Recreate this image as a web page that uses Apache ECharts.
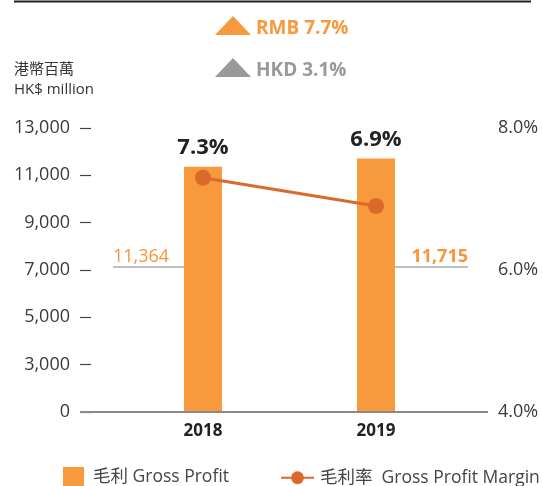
<!DOCTYPE html>
<html>
<head>
<meta charset="utf-8">
<script src="https://cdn.jsdelivr.net/npm/echarts@6/dist/echarts.min.js"></script>
<style>
html,body{margin:0;padding:0;background:#fff;}
#chart{width:542px;height:486px;}
</style>
</head>
<body>
<div id="chart"></div>
<script>
const categories = ['2018', '2019'];
const grossProfit = [11364, 11715];
const grossMargin = [7.3, 6.9];
const profitLabels = ['11,364', '11,715'];
const leftAxisMin = 1000, leftAxisMax = 13000, leftAxisStep = 2000;
const rightAxisMin = 4, rightAxisMax = 8, rightAxisStep = 2;
const changeLabels = ['RMB 7.7%', 'HKD 3.1%'];
const seriesNames = ['毛利 Gross Profit', '毛利率  Gross Profit Margin'];
const unitLabel = '港幣百萬\nHK$ million';

const FONT = "'Open Sans', 'Noto Sans CJK TC', sans-serif";
const ORANGE = '#F7993C';
const LINE = '#DB6A2A';
const GRAY_TRI = '#98999B';

const chart = echarts.init(document.getElementById('chart'));

const option = {
  backgroundColor: '#fff',
  animation: false,
  textStyle: { fontFamily: FONT },
  title: {
    text: unitLabel,
    left: 14, top: 60, padding: 0,
    textStyle: { fontFamily: FONT, fontSize: 15, fontWeight: 'normal', color: '#333', lineHeight: 20 }
  },
  grid: { left: 116.5, right: 79.5, top: 128, bottom: 74 },
  legend: [
    {
      data: [seriesNames[0]], left: 63, top: 467, padding: 0, itemWidth: 21, itemHeight: 20,
      icon: 'rect',
      textStyle: { fontFamily: FONT, fontSize: 17.5, color: '#444', padding: [0, 0, 0, 4] }
    },
    {
      data: [seriesNames[1]], left: 280, top: 469, padding: 0, itemWidth: 33, itemHeight: 16,
      textStyle: { fontFamily: FONT, fontSize: 17.5, color: '#444', padding: [0, 0, 0, 1] }
    }
  ],
  xAxis: {
    type: 'category', data: categories,
    axisLine: { show: false }, axisTick: { show: false },
    axisLabel: { fontFamily: FONT, fontSize: 17, fontWeight: 'bold', color: '#222', margin: 11 }
  },
  yAxis: [
    {
      type: 'value', min: leftAxisMin, max: leftAxisMax, interval: leftAxisStep,
      offset: 36.5, position: 'left',
      axisLine: { show: false },
      axisTick: { show: true, inside: true, length: 11, lineStyle: { color: '#444', width: 1.2 } },
      splitLine: { show: false },
      axisLabel: {
        fontFamily: FONT, fontSize: 18, color: '#3a3a3a', margin: 10,
        formatter: v => v === leftAxisMin ? '0' : v.toLocaleString('en-US')
      }
    },
    {
      type: 'value', min: rightAxisMin, max: rightAxisMax, interval: rightAxisStep,
      offset: 25.5, position: 'right',
      axisLine: { show: false }, axisTick: { show: false }, splitLine: { show: false },
      axisLabel: {
        fontFamily: FONT, fontSize: 18, color: '#3a3a3a', margin: 10,
        formatter: v => v.toFixed(1) + '%'
      }
    }
  ],
  series: [
    {
      name: seriesNames[0], type: 'bar', data: grossProfit, barWidth: 38,
      itemStyle: { color: ORANGE },
      label: {
        show: true, position: 'top', distance: 8,
        fontFamily: FONT, fontSize: 22, fontWeight: 'bold', color: '#222',
        formatter: p => grossMargin[p.dataIndex].toFixed(1) + '%'
      },
      z: 2
    },
    {
      name: seriesNames[1], type: 'line', yAxisIndex: 1, data: grossMargin,
      symbol: 'circle', symbolSize: 16,
      lineStyle: { color: LINE, width: 3 },
      itemStyle: { color: LINE },
      z: 3
    }
  ]
};
chart.setOption(option);

const graphics = [];
graphics.push({ type: 'line', shape: { x1: 14, y1: 1.5, x2: 531, y2: 1.5 }, style: { stroke: '#222', lineWidth: 2 } });
const triColors = [ORANGE, GRAY_TRI];
const triTops = [16, 58];
changeLabels.forEach((t, i) => {
  const top = triTops[i];
  graphics.push({ type: 'polygon', shape: { points: [[215, top + 19], [233, top], [251, top + 19]] }, style: { fill: triColors[i] } });
  graphics.push({ type: 'text', x: 256, y: top + 13, style: { text: t, fill: triColors[i], font: "bold 19px " + FONT, textVerticalAlign: 'middle' } });
});
const yBase = chart.convertToPixel({ yAxisIndex: 0 }, leftAxisMin);
graphics.push({ type: 'line', z: 10, shape: { x1: 80, y1: yBase, x2: 488, y2: yBase }, style: { stroke: '#8a8a8a', lineWidth: 2 } });
const yAnn = chart.convertToPixel({ yAxisIndex: 0 }, 7000) - 3;
categories.forEach((c, i) => {
  const cx = chart.convertToPixel({ xAxisIndex: 0 }, c);
  const half = 19;
  let x1, x2, tx, align, weight;
  if (i === 0) { x2 = cx - half; x1 = x2 - 71; tx = x1; align = 'left'; weight = 'normal'; }
  else { x1 = cx + half; x2 = x1 + 73; tx = x2; align = 'right'; weight = 'bold'; }
  graphics.push({ type: 'line', shape: { x1, y1: yAnn, x2, y2: yAnn }, style: { stroke: '#aaa', lineWidth: 1.5 } });
  graphics.push({ type: 'text', x: tx, y: yAnn - 1, style: { text: profitLabels[i], fill: '#F7963A', font: weight + ' 18px ' + FONT, textAlign: align, textVerticalAlign: 'bottom' } });
});
chart.setOption({ graphic: graphics });
</script>
</body>
</html>
